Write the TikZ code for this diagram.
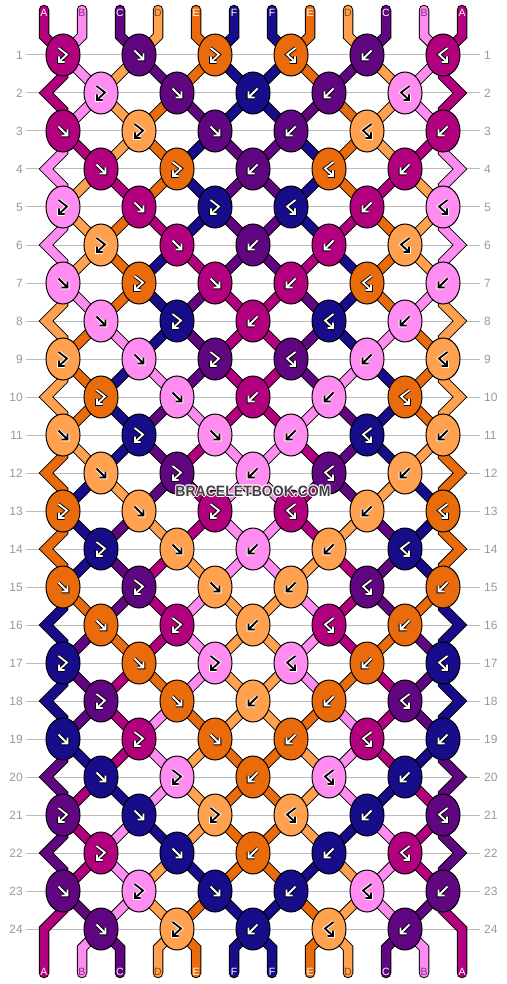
\documentclass[tikz,border=0pt]{standalone}
\usepackage{fontspec}
\setmainfont{Liberation Sans}
\usetikzlibrary{shapes.geometric}
\definecolor{bbm}{HTML}{B2007E}
\definecolor{bbp}{HTML}{FF8CF0}
\definecolor{bbu}{HTML}{5F0680}
\definecolor{bbl}{HTML}{FFA14F}
\definecolor{bbo}{HTML}{EA6B0C}
\definecolor{bbn}{HTML}{170C89}
\definecolor{rowgray}{HTML}{BBBBBB}
\definecolor{numgray}{HTML}{999999}
\definecolor{wmgray}{HTML}{3F3F3F}
\definecolor{labB}{HTML}{8A2C86}
\definecolor{labD}{HTML}{8A4A10}
\def\fgm{white}\def\bgm{black}
\def\fgu{white}\def\bgu{black}
\def\fgo{white}\def\bgo{black}
\def\fgn{white}\def\bgn{black}
\def\fgp{black}\def\bgp{white}
\def\fgl{black}\def\bgl{white}
\newcommand\defstate[7]{%
  \expandafter\def\csname st#1-0\endcsname{#2}%
  \expandafter\def\csname st#1-1\endcsname{#3}%
  \expandafter\def\csname st#1-2\endcsname{#4}%
  \expandafter\def\csname st#1-3\endcsname{#5}%
  \expandafter\def\csname st#1-4\endcsname{#6}%
  \expandafter\def\csname st#1-5\endcsname{#7}%
  \expandafter\def\csname st#1-6\endcsname{#7}%
  \expandafter\def\csname st#1-7\endcsname{#6}%
  \expandafter\def\csname st#1-8\endcsname{#5}%
  \expandafter\def\csname st#1-9\endcsname{#4}%
  \expandafter\def\csname st#1-10\endcsname{#3}%
  \expandafter\def\csname st#1-11\endcsname{#2}}
\defstate{0}{m}{p}{u}{l}{o}{n}
\defstate{1}{m}{p}{l}{u}{o}{n}
\defstate{2}{m}{p}{l}{o}{u}{n}
\defstate{3}{p}{m}{l}{o}{n}{u}
\defstate{4}{p}{l}{m}{o}{n}{u}
\defstate{5}{p}{l}{o}{m}{n}{u}
\defstate{6}{p}{l}{o}{n}{m}{u}
\defstate{7}{l}{p}{o}{n}{u}{m}
\defstate{8}{l}{o}{p}{n}{u}{m}
\defstate{9}{l}{o}{n}{p}{u}{m}
\defstate{10}{l}{o}{n}{u}{p}{m}
\defstate{11}{o}{l}{n}{u}{m}{p}
\defstate{12}{o}{n}{l}{u}{m}{p}
\defstate{13}{o}{n}{u}{l}{m}{p}
\defstate{14}{o}{n}{u}{m}{l}{p}
\defstate{15}{n}{o}{u}{m}{p}{l}
\defstate{16}{n}{u}{o}{m}{p}{l}
\defstate{17}{n}{u}{m}{o}{p}{l}
\defstate{18}{n}{u}{m}{p}{o}{l}
\defstate{19}{u}{n}{m}{p}{l}{o}
\defstate{20}{u}{m}{n}{p}{l}{o}
\defstate{21}{u}{m}{p}{n}{l}{o}
\defstate{22}{u}{m}{p}{l}{n}{o}
\defstate{23}{m}{u}{p}{l}{o}{n}
\defstate{24}{m}{p}{u}{l}{o}{n}
\newcommand\arrF[1]{\draw[#1] (-4.5,-4.5) -- (4.5,4.5) (-1.5,4.5) -- (4.5,4.5) -- (4.5,-1.5);}
\newcommand\arrB[1]{\draw[#1] (4.5,-4.5) -- (-4.5,4.5) (1.5,4.5) -- (-4.5,4.5) -- (-4.5,-1.5);}
\newcommand\arrFB[1]{\draw[#1] (-4.5,-7) -- (4,-0.5) -- (-4,7) (-4,1.5) -- (-4,7) -- (1.5,7);}
\newcommand\arrBF[1]{\draw[#1] (4.5,-7) -- (-4,-0.5) -- (4,7) (4,1.5) -- (4,7) -- (-1.5,7);}
\newcommand\segstyle[2]{%
  \ifnum#1=0
    \tikzset{segline/.style={line width=10.5pt, draw=black, line cap=round, line join=miter}}%
  \else
    \edef\segc{bb#2}%
    \tikzset{segline/.style={line width=8.5pt, draw=\segc, line cap=round, line join=miter}}%
  \fi}
\newcommand\drawsegs[1]{%
  \foreach \ro in {1,...,23}{%
    \pgfmathtruncatemacro\rn{\ro+1}%
    \foreach \ii in {1,...,10}{%
      \segstyle{#1}{\csname st\ro-\ii\endcsname}%
      \draw[segline] (P-\ro-\ii) -- (P-\rn-\ii);
    }%
  }%
  \foreach \ro in {2,4,...,22}{%
    \pgfmathtruncatemacro\ra{\ro-1}\pgfmathtruncatemacro\rb{\ro+1}%
    \pgfmathsetmacro\yy{17+38*\ro}%
    \pgfmathsetmacro\yu{\yy-17}\pgfmathsetmacro\yd{\yy+17}%
    \segstyle{#1}{\csname st\ro-0\endcsname}%
    \draw[segline] (P-\ra-0) -- (63,\yu) -- (46,\yy) -- (63,\yd) -- (P-\rb-0);
    \segstyle{#1}{\csname st\ro-11\endcsname}%
    \draw[segline] (P-\ra-11) -- (443,\yu) -- (460,\yy) -- (443,\yd) -- (P-\rb-11);
  }%
  \segstyle{#1}{\csname st23-0\endcsname}%
  \draw[segline] (P-23-0) -- (63,910) -- (44,929) -- (44,973);
  \segstyle{#1}{\csname st23-11\endcsname}%
  \draw[segline] (P-23-11) -- (443,910) -- (462,929) -- (462,973);
  \foreach \ii in {0,...,11}{%
    \pgfmathsetmacro\xx{44+38*\ii}%
    \segstyle{#1}{\csname st0-\ii\endcsname}%
    \draw[segline] (\xx,10) -- (\xx,36) -- (P-1-\ii);
  }%
  \foreach \ii in {1,...,10}{%
    \pgfmathsetmacro\xx{44+38*\ii}%
    \segstyle{#1}{\csname st24-\ii\endcsname}%
    \draw[segline] (P-24-\ii) -- (\xx,948) -- (\xx,973);
  }%
}
\newcommand\knotat[5]{%
  \edef\kfill{bb#4}\edef\kfg{\csname fg#4\endcsname}\edef\kbg{\csname bg#4\endcsname}%
  \node[knot, fill=\kfill] (#1) at (#2,#3) {};
  \csname arr#5\endcsname{shift={(#2,#3)}, line width=3.6pt, draw=\kbg, line join=miter, line cap=butt}%
  \csname arr#5\endcsname{shift={(#2,#3)}, line width=1.8pt, draw=\kfg, line join=miter, line cap=butt}}
\begin{document}
\begin{tikzpicture}[x=1pt,y=-1pt,
  knot/.style={ellipse, draw=black, line width=1pt, minimum width=34pt, minimum height=42pt, inner sep=0pt},
  rownum/.style={text=numgray, font=\fontsize{12}{12}\selectfont, inner sep=0pt},
  strlab/.style={font=\fontsize{10.5}{10.5}\selectfont, inner sep=0pt}]
\useasboundingbox (0,0) rectangle (506,984);
\fill[white] (0,0) rectangle (506,984);
% row guide lines and numbers
\foreach \ro in {1,...,24}{
  \pgfmathsetmacro\yy{17+38*\ro}
  \draw[rowgray, line width=1pt] (26,\yy) -- (480,\yy);
  \node[rownum, anchor=east] (nl-\ro) at (23,\yy) {\ro};
  \node[rownum, anchor=west] (nr-\ro) at (484,\yy) {\ro};
}
% string positions at each row
\foreach \ro in {1,...,24}{
  \pgfmathsetmacro\yy{17+38*\ro}
  \foreach \ii in {0,...,11}{
    \pgfmathsetmacro\xx{(mod(\ro+\ii,2)==1) ? 63+38*\ii : 25+38*\ii}
    \coordinate (P-\ro-\ii) at (\xx,\yy);
  }
}
% strings: outline then colour
\drawsegs{0}
\drawsegs{1}
% knots
\foreach \ro in {1,...,24}{
  \pgfmathtruncatemacro\rp{\ro-1}
  \pgfmathtruncatemacro\rmod{mod(\ro,4)}
  \pgfmathsetmacro\yy{17+38*\ro}
  \ifodd\ro\relax
    \ifnum\rmod=1 \def\types{FB,F,FB,BF,B,BF}\else\def\types{F,FB,F,B,BF,B}\fi
  \else
    \ifnum\rmod=2 \def\types{FB,F,B,B,BF}\else\def\types{F,FB,B,BF,B}\fi
  \fi
  \foreach \tp [count=\kk from 0] in \types {
    \ifodd\ro\relax
      \pgfmathsetmacro\kx{63+76*\kk}
      \pgfmathtruncatemacro\pos{\kk<3 ? 2*\kk : 2*\kk+1}
    \else
      \pgfmathsetmacro\kx{101+76*\kk}
      \pgfmathtruncatemacro\pos{\kk<2 ? 2*\kk+1 : (\kk==2 ? 5 : 2*\kk+2)}
    \fi
    \edef\col{\csname st\rp-\pos\endcsname}
    \knotat{k-\ro-\kk}{\kx}{\yy}{\col}{\tp}
  }
}
% string letters
\foreach \lab/\lc [count=\ii from 0] in {A/white,B/labB,C/white,D/labD,E/white,F/white,F/white,E/white,D/labD,C/white,B/labB,A/white}{
  \pgfmathsetmacro\xx{44+38*\ii}
  \node[strlab, text=\lc] (lt-\ii) at (\xx,13) {\lab};
  \node[strlab, text=\lc] (lb-\ii) at (\xx,972) {\lab};
}
% watermark
\foreach \dx/\dy [count=\n] in {-0.9/0,0.9/0,0/-0.9,0/0.9,-0.7/-0.7,0.7/0.7,-0.7/0.7,0.7/-0.7}{
  \node[text=white, font=\fontsize{15}{15}\selectfont\bfseries, inner sep=0pt] (wmh-\n) at (253+\dx,491+\dy) {\scalebox{0.935}[1]{BRACELETBOOK.COM}};
}
\node[text=wmgray, font=\fontsize{15}{15}\selectfont\bfseries, inner sep=0pt] (wm) at (253,491) {\scalebox{0.935}[1]{BRACELETBOOK.COM}};
\end{tikzpicture}
\end{document}
